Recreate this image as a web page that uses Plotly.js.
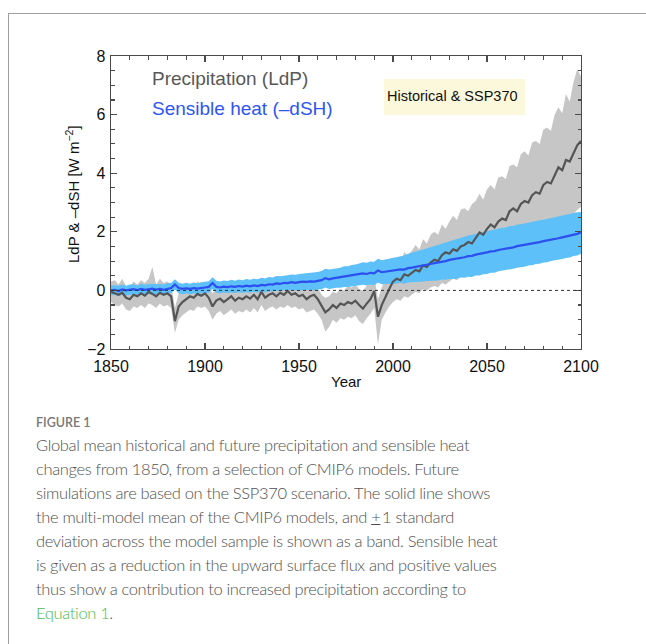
<!DOCTYPE html>
<html>
<head>
<meta charset="utf-8">
<script src="https://cdn.plot.ly/plotly-3.0.1.min.js"></script>
<style>
  html, body { margin: 0; padding: 0; background: #ffffff; }
  #wrap { position: relative; width: 646px; height: 644px; overflow: hidden; }
  #chart { position: absolute; left: 0; top: 0; width: 646px; height: 644px; }
  #frame { position: absolute; left: 8px; top: 13px; width: 660px; height: 660px;
           border-left: 1.5px solid #a0a0a0; border-top: 1.5px solid #a0a0a0; pointer-events: none; }
  #caption { position: absolute; left: 36px; top: 415px; font-family: "Lato", "Open Sans", sans-serif;
             color: #505050; pointer-events: none; }
  #caption .fig { font-size: 12.5px; font-weight: 600; color: #777777; letter-spacing: 0px; margin-bottom: 3px; }
  #caption .txt { font-size: 16.5px; line-height: 24px; font-weight: 300; letter-spacing: -0.35px; white-space: nowrap; }
  #caption .eq { color: #4cb84c; }
</style>
</head>
<body>
<div id="wrap">
  <div id="chart"></div>
  <div id="frame"></div>
  <div id="caption">
    <div class="fig">FIGURE 1</div>
    <div class="txt">Global mean historical and future precipitation and sensible heat<br>changes from 1850, from a selection of CMIP6 models. Future<br>simulations are based on the SSP370 scenario. The solid line shows<br>the multi-model mean of the CMIP6 models, and <u>+</u>&#8201;1 standard<br>deviation across the model sample is shown as a band. Sensible heat<br>is given as a reduction in the upward surface flux and positive values<br>thus show a contribution to increased precipitation according to<br><span class="eq">Equation 1</span>.</div>
  </div>
</div>
<script>
// ---------------- DATA (2-year steps) ----------------
const years = [1850,1852,1854,1856,1858,1860,1862,1864,1866,1868,1870,1872,1874,1876,1878,1880,1882,1884,1886,1888,1890,1892,1894,1896,1898,
1900,1902,1904,1906,1908,1910,1912,1914,1916,1918,1920,1922,1924,1926,1928,1930,1932,1934,1936,1938,1940,1942,1944,1946,1948,
1950,1952,1954,1956,1958,1960,1962,1964,1966,1968,1970,1972,1974,1976,1978,1980,1982,1984,1986,1988,1990,1992,1994,1996,1998,
2000,2002,2004,2006,2008,2010,2012,2014,2016,2018,2020,2022,2024,2026,2028,2030,2032,2034,2036,2038,2040,2042,2044,2046,2048,
2050,2052,2054,2056,2058,2060,2062,2064,2066,2068,2070,2072,2074,2076,2078,2080,2082,2084,2086,2088,2090,2092,2094,2096,2098,2100];

// Precipitation (LdP) multi-model mean
const precipMean = [-0.05,-0.10,-0.15,-0.08,-0.25,-0.30,-0.15,-0.20,-0.10,-0.18,-0.05,-0.12,-0.20,-0.08,-0.15,-0.10,-0.20,-1.05,-0.55,-0.40,-0.30,-0.20,-0.25,-0.12,-0.18,
-0.10,-0.25,-0.55,-0.35,-0.28,-0.40,-0.30,-0.20,-0.35,-0.25,-0.30,-0.20,-0.28,-0.15,-0.30,-0.05,-0.25,-0.15,-0.10,-0.20,-0.08,-0.15,-0.02,-0.15,-0.10,
-0.20,-0.15,-0.30,-0.20,-0.15,-0.30,-0.55,-0.75,-0.65,-0.50,-0.60,-0.45,-0.50,-0.40,-0.45,-0.35,-0.50,-0.62,-0.45,-0.30,-0.02,-0.90,-0.50,-0.20,0.05,
0.30,0.40,0.35,0.55,0.50,0.60,0.70,0.65,0.85,0.80,0.95,1.05,1.00,1.20,1.30,1.25,1.40,1.35,1.50,1.55,1.65,1.60,1.80,1.98,1.90,
2.10,2.25,2.15,2.35,2.45,2.40,2.70,2.80,2.70,2.95,3.05,3.00,3.25,3.35,3.30,3.60,3.70,3.65,3.95,4.20,4.10,4.45,4.40,4.70,4.95,5.10];
// Precipitation band: mean + 1 SD
const precipUpper = [0.30,0.35,0.20,0.40,0.15,0.10,0.30,0.20,0.35,0.25,0.40,0.80,0.20,0.40,0.25,0.30,0.20,-0.60,-0.10,0.05,0.15,0.20,0.10,0.30,0.20,
0.30,0.15,-0.10,0.05,0.10,0.00,0.10,0.20,0.05,0.15,0.10,0.20,0.10,0.25,0.10,0.35,0.15,0.25,0.30,0.20,0.30,0.25,0.40,0.25,0.30,
0.20,0.25,0.10,0.20,0.25,0.10,-0.15,-0.25,-0.20,-0.05,-0.10,0.05,0.00,0.15,0.10,0.20,0.05,0.00,0.15,0.30,0.50,-0.30,0.10,0.40,0.70,
1.00,1.10,1.00,1.30,1.20,1.35,1.55,1.40,1.75,1.60,1.90,2.00,1.90,2.25,2.10,2.35,2.55,2.40,2.75,2.80,2.70,2.95,3.05,3.30,3.10,
3.45,3.60,3.45,3.85,3.90,3.80,4.25,4.30,4.20,4.65,4.75,4.60,5.05,5.10,5.00,5.50,5.55,5.45,6.00,6.25,6.05,6.70,6.45,7.10,7.55,7.30];
// Precipitation band: mean - 1 SD
const precipLower = [-0.40,-0.50,-0.55,-0.45,-0.65,-0.70,-0.55,-0.60,-0.50,-0.60,-0.45,-0.50,-0.60,-0.45,-0.55,-0.50,-0.60,-1.45,-1.00,-0.85,-0.75,-0.65,-0.70,-0.55,-0.60,
-0.55,-0.70,-1.00,-0.80,-0.70,-0.85,-0.75,-0.65,-0.80,-0.70,-0.75,-0.65,-0.75,-0.60,-0.75,-0.50,-0.70,-0.60,-0.55,-0.65,-0.55,-0.60,-0.50,-0.60,-0.55,
-0.65,-0.60,-0.75,-0.70,-0.65,-0.80,-1.00,-1.40,-1.25,-1.00,-1.10,-0.95,-1.00,-0.90,-0.95,-0.85,-1.05,-1.15,-0.95,-0.80,-0.60,-1.85,-1.00,-0.75,-0.55,
-0.40,-0.30,-0.35,-0.20,-0.25,-0.15,-0.05,-0.10,0.05,0.00,0.10,0.15,0.10,0.25,0.20,0.30,0.40,0.35,0.50,0.45,0.55,0.60,0.70,0.75,0.80,
0.90,1.00,0.95,1.10,1.15,1.20,1.30,1.40,1.35,1.50,1.60,1.55,1.70,1.80,1.75,1.95,2.00,2.05,2.15,2.30,2.30,2.50,2.45,2.60,2.75,2.85];

// Sensible heat (-dSH) multi-model mean
const shMean = [0.00,0.02,-0.02,0.03,0.00,0.02,0.04,0.01,0.05,0.02,0.04,0.06,0.03,0.05,0.02,0.06,0.08,0.20,0.08,0.05,0.07,0.05,0.08,0.06,0.09,
0.10,0.12,0.25,0.12,0.10,0.13,0.11,0.14,0.12,0.15,0.13,0.16,0.14,0.17,0.15,0.19,0.17,0.21,0.20,0.24,0.22,0.26,0.25,0.28,0.26,
0.28,0.30,0.29,0.31,0.30,0.33,0.35,0.42,0.38,0.41,0.43,0.44,0.47,0.48,0.51,0.52,0.55,0.58,0.56,0.60,0.58,0.68,0.62,0.64,0.66,
0.66,0.69,0.72,0.71,0.76,0.78,0.80,0.83,0.85,0.88,0.90,0.93,0.95,0.99,1.00,1.04,1.06,1.08,1.12,1.13,1.17,1.18,1.22,1.24,1.27,
1.30,1.33,1.34,1.38,1.40,1.42,1.46,1.47,1.51,1.53,1.55,1.58,1.60,1.63,1.65,1.68,1.70,1.73,1.76,1.78,1.81,1.84,1.86,1.90,1.93,1.98];
// Sensible heat band: mean + 1 SD
const shUpper = [0.17,0.18,0.16,0.20,0.16,0.20,0.21,0.17,0.23,0.19,0.22,0.23,0.21,0.22,0.20,0.24,0.25,0.38,0.26,0.23,0.26,0.23,0.27,0.24,0.28,
0.30,0.31,0.45,0.33,0.30,0.34,0.32,0.36,0.33,0.37,0.35,0.39,0.36,0.40,0.38,0.43,0.41,0.46,0.44,0.49,0.48,0.51,0.52,0.54,0.53,
0.56,0.57,0.58,0.59,0.60,0.63,0.66,0.74,0.71,0.73,0.77,0.77,0.82,0.82,0.87,0.88,0.92,0.96,0.94,0.99,0.98,1.08,1.03,1.06,1.09,
1.11,1.15,1.18,1.19,1.25,1.28,1.32,1.36,1.40,1.44,1.48,1.52,1.56,1.61,1.64,1.69,1.72,1.76,1.80,1.83,1.87,1.90,1.93,1.97,1.99,
2.04,2.06,2.08,2.11,2.14,2.15,2.20,2.20,2.25,2.26,2.29,2.31,2.34,2.36,2.39,2.41,2.44,2.46,2.50,2.51,2.55,2.57,2.60,2.63,2.67,2.68];
// Sensible heat band: mean - 1 SD
const shLower = [-0.17,-0.15,-0.19,-0.14,-0.17,-0.15,-0.13,-0.16,-0.12,-0.15,-0.13,-0.11,-0.14,-0.12,-0.15,-0.11,-0.09,0.03,-0.10,-0.13,-0.11,-0.13,-0.10,-0.12,-0.09,
-0.09,-0.08,0.05,-0.08,-0.10,-0.07,-0.09,-0.07,-0.09,-0.06,-0.08,-0.06,-0.08,-0.05,-0.07,-0.04,-0.06,-0.03,-0.04,-0.01,-0.03,0.01,-0.01,0.02,0.00,
0.01,0.02,0.01,0.02,0.00,0.03,0.04,0.10,0.05,0.07,0.09,0.09,0.12,0.12,0.14,0.15,0.17,0.19,0.17,0.20,0.18,0.27,0.21,0.22,0.23,
0.21,0.23,0.26,0.23,0.27,0.28,0.28,0.30,0.30,0.32,0.32,0.34,0.34,0.37,0.36,0.39,0.40,0.40,0.44,0.43,0.47,0.46,0.51,0.51,0.55,
0.56,0.60,0.60,0.65,0.66,0.69,0.72,0.74,0.77,0.80,0.81,0.85,0.86,0.90,0.91,0.95,0.96,1.00,1.02,1.05,1.07,1.11,1.12,1.17,1.19,1.25];

const xTickVals = [1850, 1900, 1950, 2000, 2050, 2100];
const yTickVals = [-2, 0, 2, 4, 6, 8];

// ---------------- PLOT ----------------
const L = 111, R = 581, T = 56, B = 349, W = 646, H = 644;
const px = v => (v - L) / (R - L);
const py = v => (B - v) / (B - T);

function band(x, up, lo) {
  return { x: x.concat(x.slice().reverse()), y: up.concat(lo.slice().reverse()) };
}
const pb = band(years, precipUpper, precipLower);
const sb = band(years, shUpper, shLower);

const traces = [
  { x: pb.x, y: pb.y, type: 'scatter', mode: 'lines', fill: 'toself', fillcolor: '#c6c6c6',
    line: { width: 0, color: '#c6c6c6' }, hoverinfo: 'skip', showlegend: false },
  { x: sb.x, y: sb.y, type: 'scatter', mode: 'lines', fill: 'toself', fillcolor: '#5dc0f8',
    line: { width: 0, color: '#5dc0f8' }, hoverinfo: 'skip', showlegend: false },
  { x: years, y: precipMean, type: 'scatter', mode: 'lines',
    line: { color: '#555555', width: 2.2 }, showlegend: false },
  { x: years, y: shMean, type: 'scatter', mode: 'lines',
    line: { color: '#2b4ff0', width: 2.2 }, showlegend: false }
];

const axisCommon = {
  showgrid: false, zeroline: false, showline: true, linecolor: '#4a4a4a', linewidth: 1.3,
  mirror: 'ticks', ticks: 'inside', tickcolor: '#4a4a4a', tickwidth: 1.2,
  tickfont: { family: 'Liberation Sans, Arial, sans-serif', size: 16, color: '#111' }
};

const layout = {
  width: W, height: H,
  margin: { l: L, r: W - R, t: T, b: H - B, pad: 0 },
  paper_bgcolor: '#ffffff', plot_bgcolor: '#ffffff',
  showlegend: false,
  xaxis: Object.assign({}, axisCommon, {
    range: [1850, 2100], tickmode: 'array', tickvals: xTickVals, ticktext: xTickVals.map(String),
    ticklabelstandoff: 2,
    ticklen: 6, minor: { dtick: 10, tick0: 1850, ticks: 'inside', ticklen: 3.5, tickcolor: '#4a4a4a', tickwidth: 1.1 }
  }),
  yaxis: Object.assign({}, axisCommon, {
    range: [-2, 8], tickmode: 'array', tickvals: yTickVals, ticktext: yTickVals.map(v => v < 0 ? '\u2212' + Math.abs(v) : String(v)),
    ticklabelstandoff: 1,
    ticklen: 6, minor: { dtick: 0.5, tick0: 0, ticks: 'inside', ticklen: 3.5, tickcolor: '#4a4a4a', tickwidth: 1.1 }
  }),
  shapes: [
    { type: 'line', xref: 'x', yref: 'y', x0: 1850, x1: 2100, y0: 0, y1: 0,
      line: { color: '#333', width: 1, dash: 'dot' }, layer: 'above' },
    { type: 'rect', xref: 'paper', yref: 'paper', x0: px(384), x1: px(525), y0: py(79), y1: py(115),
      fillcolor: '#fcf8dc', line: { width: 0 }, layer: 'above' }
  ],
  annotations: [
    { xref: 'paper', yref: 'paper', x: px(150), y: py(78), xanchor: 'left', yanchor: 'middle', showarrow: false,
      text: 'Precipitation (LdP)', font: { family: 'Liberation Sans, Arial, sans-serif', size: 19, color: '#585858' } },
    { xref: 'paper', yref: 'paper', x: px(150), y: py(108), xanchor: 'left', yanchor: 'middle', showarrow: false,
      text: 'Sensible heat (\u2013dSH)', font: { family: 'Liberation Sans, Arial, sans-serif', size: 19, color: '#2f55f2' } },
    { xref: 'paper', yref: 'paper', x: px(385), y: py(96), xanchor: 'left', yanchor: 'middle', showarrow: false,
      text: 'Historical &amp; SSP370', font: { family: 'Liberation Sans, Arial, sans-serif', size: 14.5, color: '#111' } },
    { xref: 'paper', yref: 'paper', x: px(72), y: py(194), xanchor: 'center', yanchor: 'middle', showarrow: false,
      textangle: -90, text: 'LdP &amp; \u2013dSH [W m<sup>\u22122</sup>]',
      font: { family: 'Liberation Sans, Arial, sans-serif', size: 15, color: '#111' } },
    { xref: 'paper', yref: 'paper', x: px(346), y: py(382), xanchor: 'center', yanchor: 'middle', showarrow: false,
      text: 'Year', font: { family: 'Liberation Sans, Arial, sans-serif', size: 15, color: '#111' } }
  ]
};

Plotly.newPlot('chart', traces, layout, { staticPlot: true, displayModeBar: false });
</script>
</body>
</html>
